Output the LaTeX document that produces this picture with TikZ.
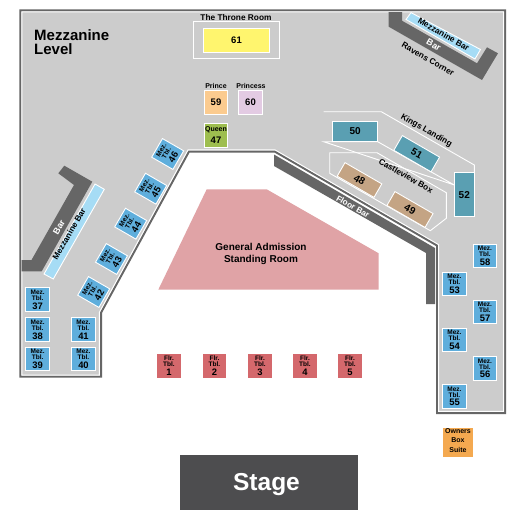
\documentclass[tikz,border=0pt]{standalone}
\usepackage{fontspec}
\setmainfont{Liberation Sans}
\definecolor{wallc}{HTML}{666666}
\definecolor{floorc}{HTML}{CCCCCC}
\definecolor{mezc}{HTML}{5FAEDC}
\definecolor{barblue}{HTML}{A6DCF5}
\definecolor{tealc}{HTML}{5A9FB2}
\definecolor{tanc}{HTML}{C4A484}
\definecolor{flrc}{HTML}{D4686C}
\definecolor{gac}{HTML}{E0A3A6}
\definecolor{stagec}{HTML}{4D4D4F}
\definecolor{yelc}{HTML}{FFF56E}
\definecolor{peachc}{HTML}{FBCB8F}
\definecolor{lilac}{HTML}{E3CBE3}
\definecolor{queenc}{HTML}{9EBE4F}
\definecolor{ownc}{HTML}{F4A950}
\newcommand{\mez}[1]{Mez.\\Tbl.\\[1.2pt]{\fontsize{9.4}{9}\selectfont #1}}
\newcommand{\flr}[1]{Flr.\\Tbl.\\[1.2pt]{\fontsize{9.4}{9}\selectfont #1}}
\tikzset{
  x=1pt,y=-1pt,
  tblfont/.style={font=\fontsize{6.5}{6}\selectfont\bfseries},
  seat/.style={draw=white,line width=.9pt,inner sep=0pt,align=center,text=black},
  mezbox/.style={seat,tblfont,fill=mezc,minimum width=23.6pt,minimum height=23.6pt},
  mezrot/.style={mezbox,minimum width=21.5pt,minimum height=24.5pt,rotate=60},
  flrbox/.style={inner sep=0pt,align=center,fill=flrc,minimum width=23.6pt,minimum height=24pt,text=black,tblfont},
  tealbox/.style={seat,fill=tealc,font=\fontsize{10}{10}\selectfont\bfseries},
  tanbox/.style={seat,fill=tanc,font=\fontsize{10}{10}\selectfont\bfseries,rotate=-30},
  lab/.style={inner sep=0pt,font=\fontsize{8.3}{9}\selectfont\bfseries,text=black},
  smalllab/.style={inner sep=0pt,font=\fontsize{7}{8}\selectfont\bfseries,text=black},
  barlab/.style={inner sep=0pt,font=\fontsize{9}{9}\selectfont\bfseries,text=white},
  numbox/.style={seat,minimum width=23.4pt,minimum height=24pt,font=\fontsize{9.5}{10}\selectfont\bfseries},
  outline/.style={draw=white,line width=.9pt},
}
\begin{document}
\begin{tikzpicture}
\useasboundingbox (0,0) rectangle (525,525);
\fill[white] (0,0) rectangle (525,525);
% building
\path[fill=floorc,draw=wallc,line width=2pt,miter limit=10] (20.3,10.3) -- (505.2,10.3) -- (505.2,413) -- (437,413) -- (437,245.5) -- (274.7,151.5) -- (189,151.5) -- (101,312.7) -- (101,376.7) -- (20.3,376.7) -- cycle;
\draw[white,line width=.9pt] (21.9,11.9) -- (503.6,11.9) -- (503.6,411.4) -- (438.6,411.4) -- (438.6,244.6) -- (275.1,149.9) -- (188,149.9) -- (99.4,312.2) -- (99.4,375.1) -- (21.9,375.1) -- cycle;
% throne room
\draw[outline] (193.3,21.7) rectangle (279.3,58.3);
\node[lab] (tr) at (236,18) {The Throne Room};
\node[numbox,fill=yelc,minimum width=66.4pt] (s61) at (236.5,40.3) {61};
\node[smalllab] (pr) at (216,85.5) {Prince};
\node[numbox,fill=peachc] (s59) at (216,102.3) {59};
\node[smalllab] (prs) at (251,85.5) {Princess};
\node[numbox,fill=lilac,minimum width=24.4pt] (s60) at (250.5,102.3) {60};
\node[numbox,fill=queenc] (s47) at (216,135.7) {};
\node[smalllab] (q) at (216,130) {Queen};
\node[inner sep=0pt,font=\fontsize{9.5}{10}\selectfont\bfseries] (n47) at (216,140) {47};
% left bar
\fill[wallc] (58.3,173.3) -- (64.3,165.7) -- (92.3,181.7) -- (41.7,271.3) -- (21.7,271.3) -- (21.7,260) -- (31.5,260) -- (74,185) -- cycle;
\draw[fill=barblue,draw=white,line width=.9pt] (95,184) -- (104.3,189.3) -- (53.3,279) -- (44,274) -- cycle;
\node[barlab,rotate=60] (lb) at (59,227) {Bar};
\node[lab,rotate=60] (lmb) at (69,234) {Mezzanine Bar};
% top-right bar
\fill[wallc] (388.7,12) -- (402,12) -- (402,20.7) -- (477,63.3) -- (487,47.3) -- (498,53.3) -- (482,80) -- (388.7,26.7) -- cycle;
\draw[fill=barblue,draw=white,line width=.9pt] (411,12.6) -- (480.5,49.5) -- (475,59) -- (406,19.5) -- cycle;
\node[lab,rotate=-30] (rmb) at (443.7,34.3) {Mezzanine Bar};
\node[barlab,rotate=-30] (rb) at (433.7,45) {Bar};
\node[lab,rotate=-30] (rc) at (428,59) {Ravens Corner};
% boxes
\draw[outline] (323.7,111.7) -- (381.3,111.7) -- (474.3,165) -- (474.3,172) (454.3,185) -- (377.7,141.7) -- (323.7,141.7) -- cycle;
\draw[outline] (329.7,152.7) -- (377,152.7) -- (446.3,192.7) -- (446.3,218.3) -- (430.3,230.7) -- (329.7,173.3) -- cycle;
\node[tealbox,minimum width=45pt,minimum height=19.6pt] (s50) at (355.2,131.5) {50};
\node[tealbox,rotate=-30,minimum width=43pt,minimum height=17pt] (s51) at (416.7,153.7) {51};
\node[tealbox,minimum width=20pt,minimum height=44pt] (s52) at (464.3,194.7) {52};
\node[tanbox,minimum width=42.5pt,minimum height=15.6pt] (s48) at (359.5,180) {48};
\node[tanbox,minimum width=44pt,minimum height=16pt] (s49) at (410,209.5) {49};
\node[lab,rotate=-30] (kl) at (426.3,130.7) {Kings Landing};
\node[lab,rotate=-30] (cb) at (406,175.7) {Castleview Box};
% floor bar
\fill[wallc] (274,154.5) -- (274,166) -- (426,253) -- (426,304) -- (435,304) -- (435,248) -- cycle;
\node[lab,text=white,rotate=-30] (fb) at (353,206.7) {Floor Bar};
% GA
\fill[gac] (206.7,189.3) -- (266.7,189.3) -- (378.7,253.3) -- (378.7,289.7) -- (158.3,289.7) -- cycle;
\node[inner sep=0pt,align=center,font=\fontsize{10}{12}\selectfont\bfseries,text=black] (ga) at (261,254) {General Admission\\Standing Room};
% mezzanine label
\node[inner sep=0pt,align=left,font=\fontsize{15}{14}\selectfont\bfseries,text=black,anchor=north west] (ml) at (34,29) {Mezzanine\\Level};
% mez tables
\node[mezrot] (m46) at (167.7,154) {\mez{46}};
\node[mezrot] (m45) at (150.7,188.7) {\mez{45}};
\node[mezrot] (m44) at (130.7,223.7) {\mez{44}};
\node[mezrot] (m43) at (111.5,259) {\mez{43}};
\node[mezrot] (m42) at (93.7,292) {\mez{42}};
\node[mezbox] (m37) at (37.7,299.7) {\mez{37}};
\node[mezbox] (m38) at (37.7,329.7) {\mez{38}};
\node[mezbox] (m39) at (37.7,359) {\mez{39}};
\node[mezbox] (m41) at (83.5,329.7) {\mez{41}};
\node[mezbox] (m40) at (83.5,359) {\mez{40}};
\node[mezbox] (m58) at (485,256) {\mez{58}};
\node[mezbox] (m53) at (454.5,284) {\mez{53}};
\node[mezbox] (m57) at (485,312) {\mez{57}};
\node[mezbox] (m54) at (454.5,340) {\mez{54}};
\node[mezbox] (m56) at (485,368.3) {\mez{56}};
\node[mezbox] (m55) at (454.5,396.3) {\mez{55}};
% floor tables
\node[flrbox] (f1) at (169,366) {\flr{1}};
\node[flrbox] (f2) at (214.5,366) {\flr{2}};
\node[flrbox] (f3) at (260,366) {\flr{3}};
\node[flrbox] (f4) at (305,366) {\flr{4}};
\node[flrbox] (f5) at (350,366) {\flr{5}};
% owners
\fill[ownc] (443,428) rectangle (473,457);
\node[smalllab] (o1) at (458,431.5) {Owners};
\node[smalllab] (o2) at (458,439.7) {Box};
\node[smalllab] (o3) at (458,450.3) {Suite};
% stage
\node[fill=stagec,minimum width=178pt,minimum height=54.7pt,inner sep=0pt] (st) at (269,482.4) {};
\node[inner sep=0pt,text=white,font=\fontsize{24.5}{25}\selectfont\bfseries] (stt) at (266.5,485) {Stage};
\end{tikzpicture}
\end{document}
